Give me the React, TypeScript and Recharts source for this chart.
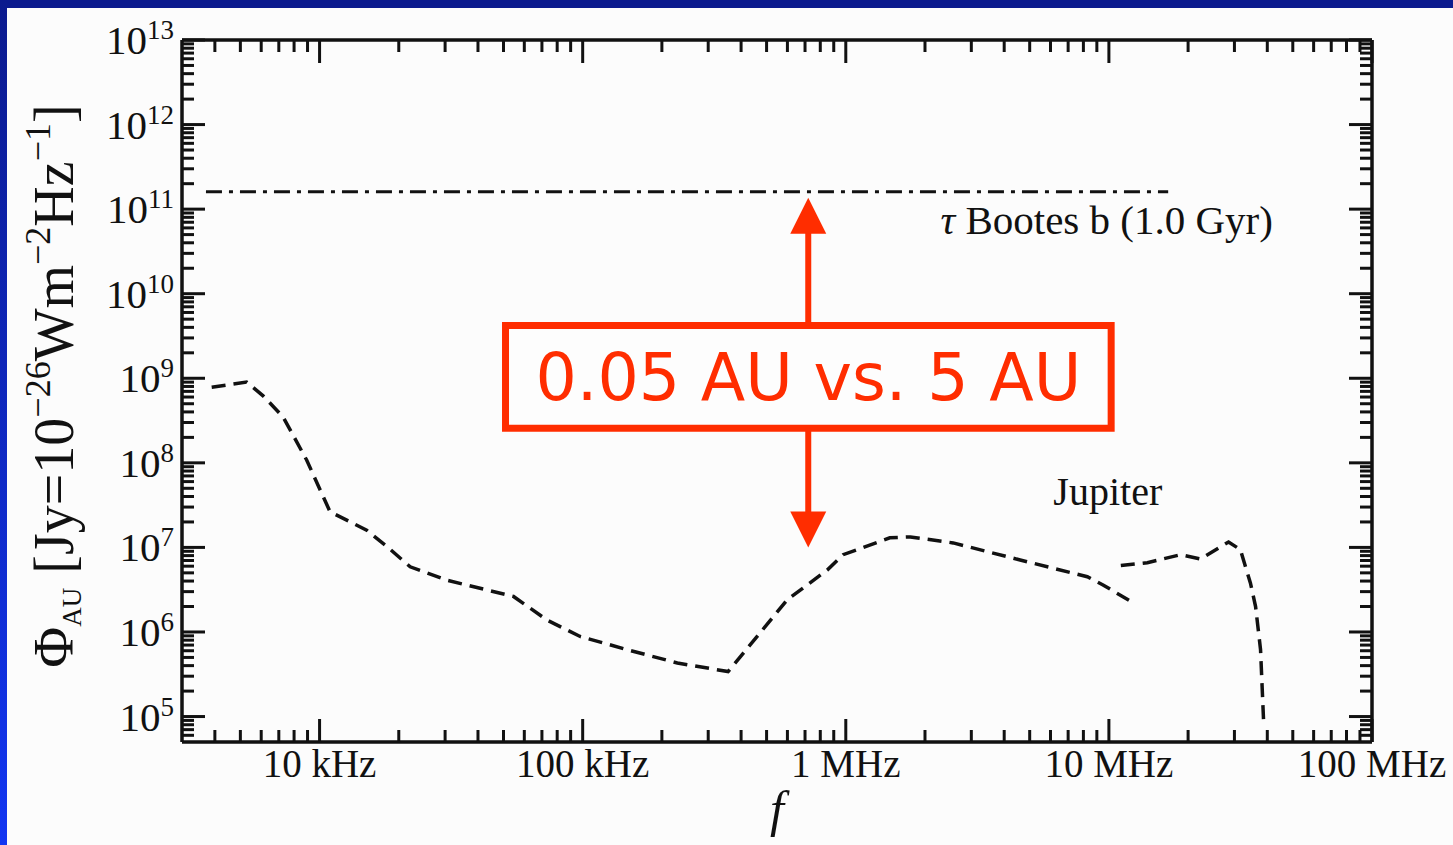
import React from 'react';
import { ComposedChart, Line, XAxis, YAxis, ReferenceArea, ReferenceLine, ReferenceDot } from 'recharts';

// ---- data (frequency in Hz, flux in Jy at 1 AU) ----
const jupiterLowBand = [
  { f: 3.89e3, phi: 7.85e8 }, { f: 5.28e3, phi: 9.0e8 }, { f: 6.1e3, phi: 6.2e8 },
  { f: 7.26e3, phi: 3.5e8 }, { f: 8.93e3, phi: 1.08e8 }, { f: 1.096e4, phi: 2.64e7 },
  { f: 1.51e4, phi: 1.6e7 }, { f: 1.8e4, phi: 1.03e7 }, { f: 2.21e4, phi: 5.9e6 },
  { f: 3.04e4, phi: 4.1e6 }, { f: 5.46e4, phi: 2.63e6 }, { f: 7.3e4, phi: 1.39e6 },
  { f: 9.78e4, phi: 8.85e5 }, { f: 1.47e5, phi: 6.2e5 }, { f: 2.29e5, phi: 4.3e5 },
  { f: 3.57e5, phi: 3.4e5 }, { f: 4.73e5, phi: 9.8e5 }, { f: 5.99e5, phi: 2.4e6 },
  { f: 8.5e5, phi: 5.4e6 }, { f: 9.77e5, phi: 8.2e6 }, { f: 1.47e6, phi: 1.3e7 },
  { f: 1.76e6, phi: 1.33e7 }, { f: 2.56e6, phi: 1.13e7 }, { f: 4.6e6, phi: 7.1e6 },
  { f: 8.28e6, phi: 4.5e6 }, { f: 9.5e6, phi: 3.6e6 }, { f: 1.24e7, phi: 2.2e6 },
];
const jupiterHighBand = [
  { f: 1.11e7, phi: 6.1e6 }, { f: 1.4e7, phi: 6.6e6 }, { f: 1.87e7, phi: 8.2e6 },
  { f: 2.23e7, phi: 7.3e6 }, { f: 2.85e7, phi: 1.16e7 }, { f: 3.16e7, phi: 9.4e6 },
  { f: 3.45e7, phi: 3.8e6 }, { f: 3.61e7, phi: 2.0e6 }, { f: 3.77e7, phi: 6.2e5 },
  { f: 3.87e7, phi: 9.2e4 },
];
const tauBootes = [{ f: 3.7e3, phi: 1.6e11 }, { f: 1.68e7, phi: 1.6e11 }];

// ---- axes ----
const xDomain = [3e3, 1e8];
const yDomain = [5e4, 1e13];
const xDecades = [3, 4, 5, 6, 7];
const yDecades = [4, 5, 6, 7, 8, 9, 10, 11, 12];
const mantissas = [1, 2, 3, 4, 5, 6, 7, 8, 9];
const xMajorValues = [1e4, 1e5, 1e6, 1e7, 1e8];
const xTickLabels = ['10 kHz', '100 kHz', '1 MHz', '10 MHz', '100 MHz'];
const yMajorExponents = [5, 6, 7, 8, 9, 10, 11, 12, 13];

// ---- annotations (data space) ----
const tauLabel = { f: 2.29e6, phi: 5.1e10, text: 'Bootes b (1.0 Gyr)' };
const jupiterLabel = { f: 6.15e6, phi: 3.19e7, text: 'Jupiter' };
const boxRange = { f1: 5.09e4, f2: 1.02e7, phi1: 2.56e8, phi2: 4.2e9 };
const boxText = '0.05 AU vs. 5 AU';
const arrowF = 7.2e5;
const upArrow = { tip: 1.36e11, tail: 4.2e9 };
const downArrow = { tip: 1.0e7, tail: 2.56e8 };

const buildTicks = (decades: number[], lo: number, hi: number) => {
  const out: number[] = [];
  decades.forEach((d) => mantissas.forEach((m) => {
    const v = Number((m * Math.pow(10, d)).toPrecision(6));
    if (v > lo && v <= hi) out.push(v);
  }));
  if (!out.includes(hi)) out.push(hi);
  return out;
};
const xTicks = buildTicks(xDecades, xDomain[0], xDomain[1]);
const yTicks = buildTicks(yDecades, yDomain[0], yDomain[1]);

const isMajor = (v: number) => Math.abs(Math.log10(v) - Math.round(Math.log10(v))) < 1e-6;

// ---- layout ----
const W = 1453;
const H = 845;
const PLOT = { left: 182, top: 40, right: 1372, bottom: 742 };
const SERIF = '"Liberation Serif", "Times New Roman", serif';
const INK = '#111';
const RED = '#ff2d00';
const MAJOR = 23;
const MINOR = 12;

const BottomTick = (props: any) => {
  const { x, y, payload } = props;
  const v = payload.value;
  const major = isMajor(v);
  const len = major ? MAJOR : MINOR;
  const idx = xMajorValues.findIndex((m) => Math.abs(m - v) / m < 1e-6);
  return (
    <g>
      <line x1={x} x2={x} y1={y} y2={y - len} stroke={INK} strokeWidth={3} />
      <line x1={x} x2={x} y1={PLOT.top} y2={PLOT.top + len} stroke={INK} strokeWidth={3} />
      {idx >= 0 && (
        <text x={x} y={y + 35} textAnchor="middle" fontFamily={SERIF} fontSize={39} fill={INK}>
          {xTickLabels[idx]}
        </text>
      )}
    </g>
  );
};

const LeftTick = (props: any) => {
  const { x, y, payload } = props;
  const v = payload.value;
  const major = isMajor(v);
  const len = major ? MAJOR : MINOR;
  const exp = Math.round(Math.log10(v));
  return (
    <g>
      <line x1={x} x2={x + len} y1={y} y2={y} stroke={INK} strokeWidth={3} />
      <line x1={PLOT.right} x2={PLOT.right - len} y1={y} y2={y} stroke={INK} strokeWidth={3} />
      {major && yMajorExponents.includes(exp) && (
        <text x={x - 8} y={y + 14} textAnchor="end" fontFamily={SERIF} fontSize={41} fill={INK}>
          10
          <tspan fontSize={27} dy={-15}>{exp}</tspan>
        </text>
      )}
    </g>
  );
};

const YLabel = () => {
  const cx = 73;
  const cy = (PLOT.top + PLOT.bottom) / 2 - 5;
  return (
    <text transform={`rotate(-90 ${cx} ${cy})`} x={cx} y={cy} textAnchor="middle" fontFamily={SERIF} fontSize={56} fill={INK}>
      <tspan>Φ</tspan>
      <tspan fontSize={27} dy={8}>AU</tspan>
      <tspan dy={-8}>{' [Jy=10'}</tspan>
      <tspan fontSize={36} dy={-23}>−26</tspan>
      <tspan dy={23}>Wm</tspan>
      <tspan fontSize={36} dy={-23}>−2</tspan>
      <tspan dy={23}>Hz</tspan>
      <tspan fontSize={36} dy={-23}>−1</tspan>
      <tspan dy={23}>]</tspan>
    </text>
  );
};

const XLabel = () => (
  <text x={(PLOT.left + PLOT.right) / 2} y={826} textAnchor="middle" fontFamily={SERIF} fontStyle="italic" fontSize={50} fill={INK}>
    f
  </text>
);

const Arrow = (props: any) => {
  const { x1, y1, x2, y2 } = props;
  const dir = y2 > y1 ? 1 : -1; // from tip towards tail
  const head = 36;
  const half = 18;
  return (
    <g>
      <line x1={x1} x2={x2} y1={y1 + dir * (head - 2)} y2={y2} stroke={RED} strokeWidth={6} />
      <polygon points={`${x1},${y1} ${x1 - half},${y1 + dir * head} ${x1 + half},${y1 + dir * head}`} fill={RED} />
    </g>
  );
};

export default function App() {
  return (
    <div style={{ position: 'absolute', left: 0, top: 0, width: W, height: H, background: '#fcfcfc', overflow: 'hidden' }}>
      <div style={{ position: 'absolute', left: 0, top: 0, width: W, height: 8, background: '#0b1a8e' }} />
      <div style={{ position: 'absolute', left: 0, top: 0, width: 7, height: H, background: 'linear-gradient(#0b1a8e, #1236f2)' }} />
      <div style={{ position: 'absolute', left: 0, top: 0 }}>
        <ComposedChart width={W} height={H} margin={{ top: PLOT.top, right: W - PLOT.right, bottom: 0, left: 0 }}>
          <XAxis
            dataKey="f"
            type="number"
            scale="log"
            domain={xDomain}
            allowDataOverflow
            ticks={xTicks}
            interval={0}
            height={H - PLOT.bottom}
            tickSize={0}
            tickMargin={0}
            tickLine={false}
            axisLine={{ stroke: INK, strokeWidth: 3.5 }}
            tick={(p: any) => <BottomTick {...p} />}
            label={<XLabel />}
          />
          <YAxis
            type="number"
            scale="log"
            domain={yDomain}
            allowDataOverflow
            ticks={yTicks}
            interval={0}
            width={PLOT.left}
            tickSize={0}
            tickMargin={0}
            tickLine={false}
            axisLine={{ stroke: INK, strokeWidth: 3.5 }}
            tick={(p: any) => <LeftTick {...p} />}
            label={<YLabel />}
          />
          <ReferenceLine y={yDomain[1]} stroke={INK} strokeWidth={3.5} />
          <ReferenceLine x={xDomain[1]} stroke={INK} strokeWidth={3.5} />
          <Line data={tauBootes} dataKey="phi" type="linear" dot={false} stroke={INK} strokeWidth={3} strokeDasharray="16 7 4 7" isAnimationActive={false} />
          <Line data={jupiterLowBand} dataKey="phi" type="linear" dot={false} stroke={INK} strokeWidth={3.5} strokeDasharray="14 8" isAnimationActive={false} />
          <Line data={jupiterHighBand} dataKey="phi" type="linear" dot={false} stroke={INK} strokeWidth={3.5} strokeDasharray="14 8" isAnimationActive={false} />
          <ReferenceArea
            x1={boxRange.f1}
            x2={boxRange.f2}
            y1={boxRange.phi1}
            y2={boxRange.phi2}
            stroke={RED}
            strokeWidth={7}
            fill="#fdfdfd"
            fillOpacity={1}
            label={(p: any) => {
              const vb = p.viewBox;
              return (
                <text x={vb.x + vb.width / 2} y={vb.y + vb.height / 2 + 23} textAnchor="middle" fontFamily='"DejaVu Sans", sans-serif' fontSize={65} fill={RED}>
                  {boxText}
                </text>
              );
            }}
          />
          <ReferenceLine segment={[{ x: arrowF, y: upArrow.tip }, { x: arrowF, y: upArrow.tail }]} shape={(p: any) => <Arrow {...p} />} />
          <ReferenceLine segment={[{ x: arrowF, y: downArrow.tip }, { x: arrowF, y: downArrow.tail }]} shape={(p: any) => <Arrow {...p} />} />
          <ReferenceDot
            x={tauLabel.f}
            y={tauLabel.phi}
            r={0}
            shape={(p: any) => (
              <text x={p.cx} y={p.cy} fontFamily={SERIF} fontSize={41} fill={INK}>
                <tspan fontStyle="italic">τ</tspan>
                {' ' + tauLabel.text}
              </text>
            )}
          />
          <ReferenceDot
            x={jupiterLabel.f}
            y={jupiterLabel.phi}
            r={0}
            shape={(p: any) => (
              <text x={p.cx} y={p.cy} fontFamily={SERIF} fontSize={40} fill={INK}>
                {jupiterLabel.text}
              </text>
            )}
          />
        </ComposedChart>
      </div>
    </div>
  );
}
